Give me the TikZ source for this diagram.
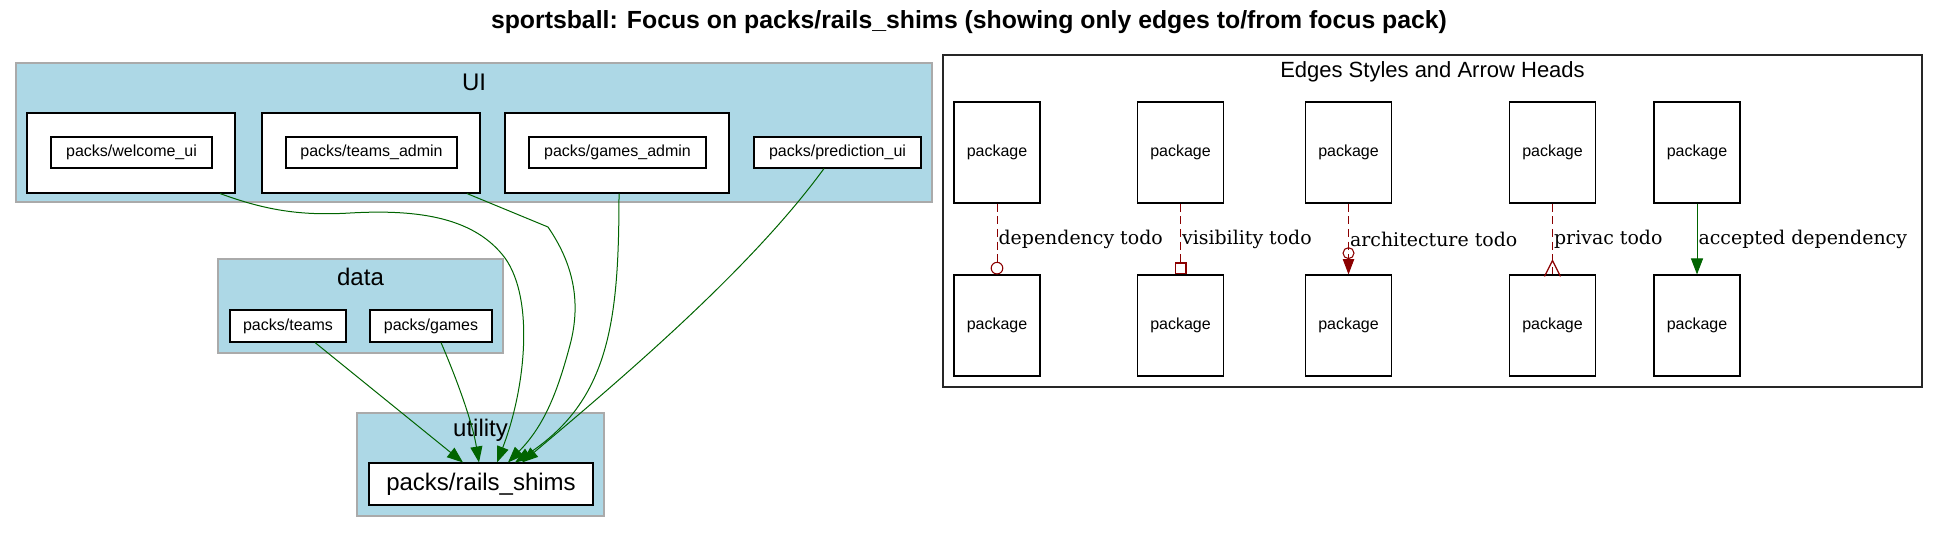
\documentclass[tikz,border=0pt]{standalone}
\usepackage{fontspec}
\setmainfont{Liberation Sans}
\newfontfamily\lblfont{DejaVu Serif}
\usetikzlibrary{arrows.meta,calc}
\definecolor{clfill}{HTML}{ADD8E6}
\definecolor{clline}{HTML}{AAAAAA}
\definecolor{dgreen}{HTML}{006400}
\definecolor{dred}{HTML}{8B0000}
\def\pxu{0.75pt}
\begin{document}
\begin{tikzpicture}[x=0.75pt,y=-0.75pt,
  box/.style={draw=black, fill=white, line width=0.8pt, inner sep=0pt, font=\fontsize{12}{14}\selectfont},
  cluster/.style={draw=clline, fill=clfill, line width=0.8pt, inner sep=0pt},
  clabel/.style={font=\fontsize{18}{20}\selectfont, inner sep=0pt},
  legendbox/.style={draw=black!85, line width=0.8pt, inner sep=0pt},
  pkg/.style={box, minimum width=86*\pxu, minimum height=101*\pxu},
  dep/.style={draw=dgreen, line width=0.75pt, -{Triangle[length=12pt,width=9pt]}},
  todo/.style={draw=dred, line width=0.75pt, dash pattern=on 6pt off 3.5pt},
  elabel/.style={font=\lblfont\fontsize{14.2}{16}\selectfont, inner sep=0pt, anchor=west, xshift=0.8pt}
]
\useasboundingbox (0,0) rectangle (1939,533);

% title
\node[font=\bfseries\fontsize{18.6}{20}\selectfont, inner sep=0pt] (title) at (969,22)
  {sportsball: Focus on packs/rails\_shims (showing only edges to/from focus pack)};

% clusters
\node[cluster, minimum width=916*\pxu, minimum height=139*\pxu] (ui) at (474,132.5) {};
\node[clabel] (uil) at (474,82) {UI};
\node[cluster, minimum width=285*\pxu, minimum height=94*\pxu] (data) at (360.5,306) {};
\node[clabel] (datal) at (360.5,277) {data};
\node[cluster, minimum width=247*\pxu, minimum height=103*\pxu] (util) at (480.5,464.5) {};
\node[clabel] (utill) at (480.5,430) {utility};

% UI packs
\node[box, minimum width=208*\pxu, minimum height=80*\pxu] (wo) at (131,153) {};
\node[box, minimum width=161*\pxu, minimum height=31*\pxu] (wi) at (131.5,152.5) {packs/welcome\_ui};
\node[box, minimum width=218*\pxu, minimum height=80*\pxu] (to) at (371,153) {};
\node[box, minimum width=171*\pxu, minimum height=31*\pxu] (ti) at (371.5,152.5) {packs/teams\_admin};
\node[box, minimum width=224*\pxu, minimum height=80*\pxu] (go) at (617,153) {};
\node[box, minimum width=177*\pxu, minimum height=31*\pxu] (gi) at (617.5,152.5) {packs/games\_admin};
\node[box, minimum width=167*\pxu, minimum height=31*\pxu] (pu) at (837.5,152.5) {packs/prediction\_ui};

% data packs
\node[box, minimum width=116*\pxu, minimum height=32*\pxu] (tm) at (288,326) {packs/teams};
\node[box, minimum width=122*\pxu, minimum height=32*\pxu] (gm) at (431,326) {packs/games};

% utility
\node[box, minimum width=224*\pxu, minimum height=42*\pxu, font=\fontsize{18}{20}\selectfont] (rs) at (481,484) {packs/rails\_shims};

% edges
\draw[dep] ($(wo.south)+(89,0)$) .. controls (265,210) and (300,216) .. (350,213)
   .. controls (420,209) and (475,218) .. (505,258)
   .. controls (535,300) and (525,390) .. ($(rs.north)+(16,0)$);
\draw[dep] ($(to.south)+(96,0)$) -- (548,227) .. controls (572,262) and (582,300) .. (570,345)
   .. controls (558,390) and (545,425) .. ($(rs.north)+(27,0)$);
\draw[dep] ($(go.south)+(2,0)$) .. controls (619,320) and (610,400) .. ($(rs.north)+(34,0)$);
\draw[dep] ($(pu.south)+(-13.5,0)$) .. controls (750,270) and (620,380) .. ($(rs.north)+(41,0)$);
\draw[dep] ($(tm.south)+(27,0)$) -- ($(rs.north)+(-18,0)$);
\draw[dep] ($(gm.south)+(10,0)$) .. controls (455,375) and (472,420) .. ($(rs.north)+(-2,0)$);

% legend
\node[legendbox, minimum width=979*\pxu, minimum height=332*\pxu] (legend) at (1432.5,221) {};
\node[font=\fontsize{16.5}{18}\selectfont, inner sep=0pt] (legendt) at (1432.5,72) {Edges Styles and Arrow Heads};

\node[pkg] (p1t) at (997,152.5) {package};
\node[pkg] (p1b) at (997,325.5) {package};
\node[pkg] (p2t) at (1180.5,152.5) {package};
\node[pkg] (p2b) at (1180.5,325.5) {package};
\node[pkg] (p3t) at (1348.5,152.5) {package};
\node[pkg] (p3b) at (1348.5,325.5) {package};
\node[pkg] (p4t) at (1552.5,152.5) {package};
\node[pkg] (p4b) at (1552.5,325.5) {package};
\node[pkg] (p5t) at (1697,152.5) {package};
\node[pkg] (p5b) at (1697,325.5) {package};

\draw[todo, -{Circle[open,length=9.5pt,width=9.5pt,line width=0.8pt]}] (p1t) -- (p1b)
  node[elabel, pos=0.51] (l1) {dependency todo};
\draw[todo, -{Square[open,length=9pt,width=9pt,line width=0.8pt]}] (p2t) -- (p2b)
  node[elabel, pos=0.51] (l2) {visibility todo};
\draw[todo, -{Circle[open,length=9pt,width=9pt,line width=0.8pt] Triangle[length=11.5pt,width=8.5pt]}] (p3t) -- (p3b)
  node[elabel, pos=0.51] (l3) {architecture todo};
\draw[todo] (p4t) -- (p4b) node[elabel, pos=0.51] (l4) {privac todo};
\draw[draw=dred, line width=0.9pt, line join=miter] ($(p4b.north)+(-8,2)$) -- ($(p4b.north)+(0,-14)$) -- ($(p4b.north)+(8,2)$);
\draw[dep] (p5t) -- (p5b) node[elabel, pos=0.51, text=black] (l5) {accepted dependency};
\end{tikzpicture}
\end{document}
